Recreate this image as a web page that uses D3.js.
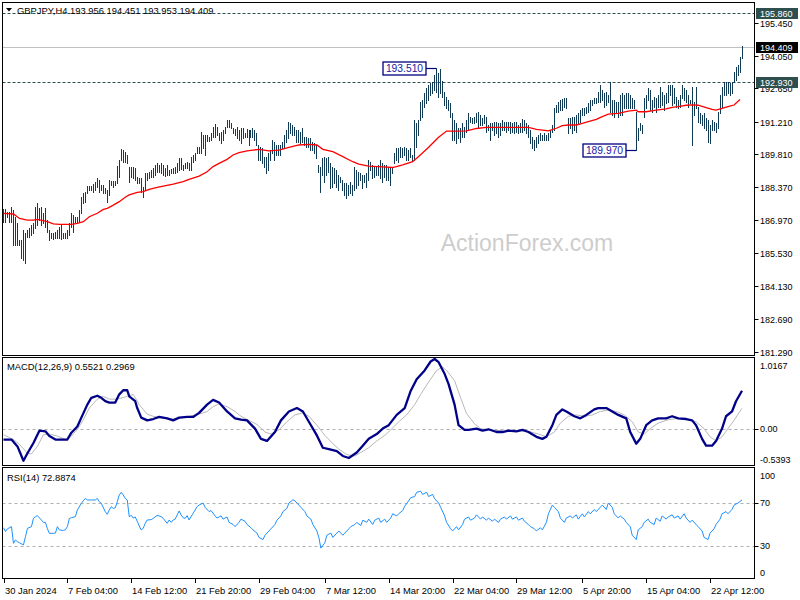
<!DOCTYPE html>
<html><head><meta charset="utf-8">
<script src="https://cdn.jsdelivr.net/npm/d3@7"></script>
<style>body{margin:0;background:#fff}svg{display:block}text{font-family:"Liberation Sans",Arial,sans-serif}</style>
</head><body><svg id="c" width="800" height="600"></svg>
<script>
// ---------- DATA ----------
const symbolTitle = "GBPJPY,H4 193.956 194.451 193.953 194.409";
const macdTitle = "MACD(12,26,9) 0.5521 0.2969";
const rsiTitle = "RSI(14) 72.8874";
const watermark = "ActionForex.com";

const highs = [
187.44,187.44,187.33,187.33,187.54,187.40,187.11,186.83,186.11,186.11,186.54,186.40,186.54,186.61,186.76,186.83,187.54,187.69,187.47,187.54,
187.26,187.47,186.97,186.54,186.40,186.42,186.47,186.54,186.68,186.76,186.40,186.40,186.54,186.83,187.26,187.19,187.11,187.11,187.40,187.97,
188.12,188.19,188.43,188.43,188.43,188.52,188.62,188.76,188.69,188.48,188.48,188.33,188.26,188.69,188.66,188.66,188.66,189.29,189.55,190.01,
189.98,189.91,189.77,189.27,189.24,189.24,189.19,188.84,188.76,188.76,188.40,188.98,188.98,189.05,189.12,189.19,189.34,189.44,189.34,189.41,
189.34,189.19,189.34,189.12,189.15,189.19,189.27,189.41,189.65,189.65,189.34,189.41,189.48,189.41,189.70,189.77,189.84,190.10,190.10,190.77,
190.63,190.63,190.63,190.56,190.70,190.99,191.10,190.99,190.73,190.77,190.84,190.99,191.27,191.27,191.13,190.92,190.87,190.99,190.84,190.92,
190.92,190.73,190.87,190.84,190.84,190.92,190.84,190.70,190.20,
190.13,190.05,189.70,189.70,189.84,189.98,190.41,190.34,190.20,190.20,190.20,190.34,190.63,190.84,191.20,191.13,191.06,190.99,190.84,190.84,
190.77,190.91,190.56,190.56,190.48,190.48,190.34,190.27,190.20,189.34,189.27,189.62,189.70,189.62,189.70,189.41,189.27,189.19,189.12,188.91,
188.83,188.69,188.55,188.55,188.48,188.62,188.48,189.27,189.12,189.05,188.98,188.91,188.91,188.98,189.55,189.48,189.34,189.27,189.27,189.34,
189.55,189.41,189.34,189.34,189.27,189.27,189.27,189.84,190.05,190.05,190.10,190.05,190.13,190.05,189.98,190.05,189.77,191.27,191.13,191.27,
192.06,192.14,192.42,192.64,192.78,192.85,192.92,193.21,193.51,193.28,193.46,192.97,192.49,192.28,192.14,191.99,191.56,191.27,191.13,190.91,
190.91,191.13,190.99,191.27,191.56,191.42,191.35,191.42,191.56,191.63,191.49,191.35,191.49,191.42,191.06,191.13,191.13,191.20,191.20,191.13,
191.13,191.27,191.20,191.20,191.20,
191.20,191.13,191.20,191.20,191.06,191.13,191.30,191.28,191.13,191.06,190.84,190.56,190.41,190.56,190.63,190.70,190.63,190.70,190.63,190.70,
190.84,191.06,191.78,191.92,192.06,192.13,192.16,192.21,192.21,191.35,191.35,191.42,191.42,191.49,191.56,191.70,191.78,191.78,191.85,191.99,
192.13,192.13,192.21,192.21,192.49,192.78,192.57,192.42,192.49,192.35,192.93,192.13,192.13,192.06,192.06,192.35,192.42,192.35,192.42,192.42,
192.35,192.21,192.13,191.63,190.92,191.13,191.06,192.21,192.35,192.64,192.57,192.13,192.28,192.21,192.35,192.71,192.49,192.35,192.42,192.78,
192.78,192.78,192.64,192.28,192.13,192.35,192.78,192.64,192.57,192.35,192.13,192.71,192.06,192.71,191.85,191.56,191.49,191.56,191.35,191.28,
191.06,191.28,191.20,191.13,191.63,192.35,192.71,192.92,192.92,192.92,192.85,192.92,193.35,193.57,193.64,194.00,194.451
];
const lows = [
186.90,186.90,187.11,186.90,186.90,185.89,185.89,185.89,185.89,185.32,185.25,185.13,186.25,186.25,186.32,186.40,186.61,186.76,186.97,186.76,
186.83,186.68,186.47,186.11,186.18,186.14,186.18,186.18,186.18,186.14,186.18,186.18,186.18,186.32,186.68,186.47,186.83,186.83,186.90,187.26,
187.69,187.76,188.12,188.26,188.26,188.19,188.26,188.40,188.19,188.26,188.12,188.12,187.76,188.05,188.48,188.40,188.48,188.55,188.84,189.55,
189.48,189.48,189.41,188.62,188.84,188.76,188.69,188.55,188.55,188.19,187.95,188.26,188.69,188.76,188.84,188.84,188.91,189.05,189.05,188.98,
188.91,188.86,188.91,188.91,188.98,188.98,189.01,189.05,189.12,189.15,189.12,189.19,189.19,189.12,189.12,189.48,189.55,189.84,189.84,189.84,
190.05,189.77,190.38,190.38,190.41,190.56,190.56,190.63,190.41,190.27,190.41,190.70,190.99,190.99,190.92,190.70,190.63,190.49,190.41,190.27,
190.49,190.56,190.56,190.20,190.56,190.56,190.41,190.20,189.55,
189.55,189.41,189.27,188.98,189.12,189.55,189.84,189.55,189.77,189.77,189.77,190.05,190.13,190.34,190.48,190.70,190.63,190.63,190.34,190.34,
190.27,190.34,190.20,190.13,190.13,189.98,189.98,189.84,189.62,189.05,188.19,188.91,188.62,188.91,189.05,188.33,188.40,188.55,188.40,188.26,
188.62,188.26,188.05,187.90,188.05,188.12,188.05,188.26,188.33,188.48,188.69,188.33,188.62,188.40,188.69,189.12,188.76,188.83,188.91,188.91,
188.76,188.62,188.83,188.69,188.69,188.48,188.98,189.41,189.55,189.48,189.70,189.70,189.77,189.55,189.55,189.70,189.55,189.55,190.13,190.63,
191.27,191.42,191.85,191.99,192.14,192.35,192.42,192.57,192.49,192.28,192.42,192.28,191.92,191.78,191.71,191.42,190.41,190.41,190.27,190.48,
190.34,190.56,190.56,190.77,190.84,191.20,191.13,191.13,191.20,190.99,191.06,191.06,191.13,190.77,190.84,190.41,190.84,190.63,190.70,190.56,
190.63,190.84,190.84,190.77,190.84,
190.70,190.77,190.70,190.77,190.70,190.77,190.77,190.84,190.70,190.56,190.27,190.05,189.98,190.13,190.27,190.41,190.41,190.41,190.41,190.41,
190.56,190.77,190.84,191.63,191.63,191.70,191.70,191.85,191.78,190.70,190.92,190.70,190.84,190.77,191.13,191.20,191.49,191.49,191.56,191.63,
191.70,191.92,191.99,191.99,192.06,192.06,192.13,191.85,191.92,192.06,191.63,191.49,191.42,191.63,191.42,191.49,191.49,191.78,191.78,191.78,
191.78,191.78,191.78,189.97,190.41,190.84,190.70,191.42,191.78,192.13,191.70,191.63,191.85,191.63,191.85,191.85,191.92,191.70,191.99,192.06,
192.35,191.92,191.99,191.85,191.78,191.85,192.21,192.13,192.06,191.85,191.99,190.20,191.49,191.78,191.20,191.13,191.06,190.92,190.84,190.34,
190.27,190.84,190.84,190.77,190.92,191.56,191.85,192.35,192.35,192.42,192.35,192.42,192.92,192.99,193.21,193.35,193.953
];

// moving average (red) sampled along the bars: bar index / value
const maIdx = [0,5,8,12,15,17,22,25,28,32,34,37,40,43,47,50,52,55,58,61,63,67,70,73,77,80,85,90,93,98,102,105,108,112,115,118,122,125,
128,133,138,143,148,153,157,160,165,170,175,178,183,190,195,200,205,208,213,218,222,227,232,237,242,247,
253,258,263,267,270,273,277,280,283,287,290,293,297,300,303,308,313,317,318,322,327,332,335,338,342,345,348,352,355,357,360,363,366,369];
const maVal = [187.26,187.23,187.04,186.97,186.97,187.00,186.90,186.80,186.78,186.78,186.78,186.83,186.90,187.11,187.26,187.43,187.47,187.61,187.76,187.95,188.05,188.16,188.19,188.29,188.38,188.43,188.52,188.62,188.72,188.86,189.05,189.27,189.41,189.58,189.77,189.87,189.95,189.98,
190.01,189.95,189.98,190.10,190.20,190.23,190.20,190.01,189.91,189.70,189.48,189.38,189.29,189.26,189.23,189.34,189.48,189.70,190.10,190.53,190.80,190.80,190.81,190.91,190.96,190.96,
190.96,190.96,190.96,190.87,190.84,190.81,190.92,191.03,191.06,191.06,191.13,191.20,191.30,191.42,191.53,191.56,191.66,191.70,191.63,191.63,191.70,191.75,191.82,191.85,191.91,191.93,191.91,191.81,191.73,191.70,191.78,191.85,191.92,192.16];

// MACD main line and signal line
const macdIdx = [0,4,7,10,12,15,17,18,21,23,26,28,32,34,37,39,42,44,47,49,51,53,56,58,60,62,63,66,67,69,72,75,78,82,85,88,92,95,98,102,105,108,112,116,119,122,126,129,132,136,139,143,147,150,153,157,160,163,167,170,173,177,180,183,187,190,193,197,201,204,207,211,214,216,218,221,223,226,228,231,233,237,240,243,247,250,253,257,260,263,267,270,272,275,277,280,282,286,289,292,296,298,302,305,308,312,314,317,319,322,325,328,332,335,338,342,345,347,350,352,355,357,360,362,365,367,370];
const macdVal = [-0.16,-0.16,-0.26,-0.47,-0.36,-0.21,-0.09,-0.03,-0.04,-0.11,-0.16,-0.16,-0.16,-0.06,0.03,0.16,0.35,0.45,0.48,0.45,0.40,0.38,0.38,0.50,0.56,0.56,0.47,0.40,0.30,0.16,0.12,0.14,0.17,0.15,0.12,0.16,0.17,0.17,0.23,0.35,0.42,0.38,0.25,0.15,0.13,0.12,0.00,-0.15,-0.18,-0.05,0.12,0.25,0.30,0.25,0.10,-0.10,-0.28,-0.30,-0.33,-0.40,-0.43,-0.35,-0.25,-0.15,-0.08,0.00,0.05,0.20,0.30,0.55,0.72,0.85,0.98,1.0167,0.97,0.80,0.65,0.35,0.05,-0.02,-0.02,0.00,-0.03,-0.01,-0.05,-0.05,-0.03,-0.04,-0.02,-0.05,-0.12,-0.15,-0.12,0.05,0.20,0.28,0.25,0.18,0.15,0.20,0.28,0.30,0.30,0.25,0.20,0.15,-0.05,-0.22,-0.15,0.05,0.12,0.15,0.15,0.18,0.15,0.14,0.12,0.05,-0.15,-0.25,-0.25,-0.18,0.00,0.18,0.25,0.40,0.5521];
const sigIdx = [0,5,8,12,14,17,20,23,27,31,33,37,40,43,47,50,53,57,62,65,68,72,75,78,85,92,98,102,105,108,112,116,119,123,127,131,134,138,142,146,150,153,157,161,165,168,172,176,179,183,187,191,194,198,202,206,209,213,217,220,222,226,229,232,236,239,243,248,253,258,263,268,272,276,279,283,287,291,295,299,303,307,311,315,318,321,324,328,333,338,343,347,351,354,357,360,363,366,370];
const sigVal = [-0.09,-0.16,-0.23,-0.36,-0.37,-0.26,-0.09,-0.08,-0.11,-0.16,-0.14,-0.01,0.13,0.30,0.43,0.47,0.43,0.43,0.47,0.50,0.35,0.21,0.18,0.16,0.14,0.17,0.21,0.25,0.32,0.36,0.32,0.25,0.18,0.12,0.06,-0.05,-0.08,-0.02,0.10,0.20,0.23,0.18,0.05,-0.10,-0.22,-0.30,-0.38,-0.40,-0.35,-0.28,-0.18,-0.10,-0.02,0.10,0.20,0.35,0.50,0.68,0.85,0.90,0.85,0.70,0.45,0.22,0.07,0.00,-0.02,-0.03,-0.04,-0.03,-0.04,-0.08,-0.12,-0.05,0.08,0.18,0.20,0.18,0.20,0.25,0.27,0.25,0.20,0.10,-0.05,-0.08,0.00,0.08,0.13,0.15,0.14,0.10,0.00,-0.12,-0.18,-0.12,0.00,0.12,0.2969];

// RSI(14)
const rsiIdx = [0,1,2,4,5,6,7,8,10,11,12,14,15,16,17,19,20,21,22,23,25,26,27,28,30,31,32,33,34,36,37,39,41,42,44,46,47,48,49,51,52,53,54,55,56,57,58,59,60,61,62,63,64,65,66,67,68,69,70,71,72,74,75,77,79,80,82,83,84,85,86,87,88,89,90,91,92,93,95,97,98,
100,101,103,104,106,107,109,110,112,113,115,116,118,119,121,122,124,125,127,128,130,131,133,134,136,137,139,140,142,143,145,146,148,149,151,152,154,155,157,158,159,161,162,164,165,167,168,170,171,173,174,176,177,179,180,182,183,185,186,188,189,191,192,194,195,197,198,200,201,203,204,206,207,209,210,212,213,215,216,218,219,221,222,224,225,227,228,230,231,233,234,236,237,239,240,242,243,245,246,248,249,251,252,254,255,257,258,260,261,263,264,266,267,269,270,272,273,275,276,278,279,281,282,284,285,287,288,290,291,293,294,296,297,299,300,302,303,305,306,308,309,311,312,314,315,317,318,320,321,323,324,326,327,329,330,332,333,335,336,338,339,341,342,344,345,347,348,350,351,353,354,356,357,359,360,362,363,365,366,368,370];
const rsiVal = [47,43.5,46,48,32.5,35.6,34,33,31,38.7,46.4,48,55.7,57.3,58.2,54.2,52,52,46,41.8,41.8,42,48,44.9,44.5,45,48,55.7,56.3,57.3,63.5,69.7,74.3,72.8,72.8,72.8,74.3,71.2,69.7,61.9,59.5,63.5,66.6,65,65.5,71.2,77.4,79.9,77.4,74.3,72.8,57.3,58.5,56,57,53,48.6,45,46.4,51.1,54.2,54.5,55.7,58.5,57.3,55.7,51.1,54.2,52,54.2,55,58.9,62.6,58.9,56.3,55.7,58.2,54.2,60.4,66.6,68.1,
70,66,62,63,58,56,58,55,57,52,50,48,52,55,53,50,47,45,42,38,36,40,44,46,50,54,58,62,65,70,73,72,68,66,62,58,55,50,44,38,28,33,40,42,38,42,44,40,42,46,48,50,52,49,54,52,55,50,54,56,52,55,52,56,60,58,60,63,67,72,75,76,80,81,78,80,76,78,74,70,66,58,52,46,44,48,45,50,55,57,54,56,59,55,57,54,56,53,55,52,55,57,55,58,55,57,54,56,53,50,48,46,44,47,45,52,60,68,66,62,56,52,56,58,56,59,55,60,57,62,60,64,62,66,68,64,70,66,60,56,58,55,52,48,40,36,45,48,52,55,52,50,56,53,58,55,57,59,56,58,55,60,56,52,54,50,48,44,38,36,42,46,50,55,60,62,60,64,68,70,72.8874];

const priceTicks = [195.450,194.050,192.650,191.210,189.810,188.370,186.970,185.530,184.130,182.690,181.290];
const macdTicks = [1.0167,0,-0.5393];
const macdTickText = ["1.0167","0.00","-0.5393"];
const rsiTicks = [100,70,30,0];
const rsiLevels = [70,30];
const timeIdx = [0,32,64,96,128,161,193,225,257,290,322,354];
const timeLabels = ["30 Jan 2024","7 Feb 04:00","14 Feb 12:00","21 Feb 20:00","29 Feb 04:00","7 Mar 12:00","14 Mar 20:00","22 Mar 04:00","29 Mar 12:00","5 Apr 20:00","15 Apr 04:00","22 Apr 12:00"];
const resistance = 195.860, support = 192.930, bid = 194.409;
const peakValue = 193.510, troughValue = 189.970;

// ---------- DRAW ----------
const svg = d3.select("#c");
const L = 2.5, R = 754.5;
const P = {main:[2.5,355.5], macd:[357.5,465.5], rsi:[467.5,578.5]};
const N = highs.length;
const x = d3.scaleLinear().domain([0, N-1]).range([3.5, 742]);
const y = d3.scaleLinear().domain([181.29, 195.45]).range([352, 23]);
const ym = d3.scaleLinear().domain([-0.5393, 1.0167]).range([465.5, 359]);
const yr = d3.scaleLinear().domain([0, 100]).range([578.25, 470.75]);
const FS = 9.4;

const defs = svg.append("defs");
Object.entries(P).forEach(([k,[t,b]])=>{
  defs.append("clipPath").attr("id","clip-"+k).append("rect").attr("x",L).attr("y",t).attr("width",R-L).attr("height",b-t);
});

// watermark
svg.append("text").attr("x",527).attr("y",251).attr("text-anchor","middle").attr("font-size",23).attr("fill","#cdcdcd").text(watermark);

const gMain = svg.append("g").attr("clip-path","url(#clip-main)");
// level lines
gMain.append("line").attr("x1",L).attr("x2",R).attr("y1",Math.round(y(resistance))+0.5).attr("y2",Math.round(y(resistance))+0.5)
  .attr("stroke","#2f4f4f").attr("stroke-dasharray","3,2");
gMain.append("line").attr("x1",L).attr("x2",R).attr("y1",Math.round(y(support))+0.5).attr("y2",Math.round(y(support))+0.5)
  .attr("stroke","#2f4f4f").attr("stroke-dasharray","3,2");
gMain.append("line").attr("x1",L).attr("x2",R).attr("y1",Math.round(y(bid))+0.5).attr("y2",Math.round(y(bid))+0.5)
  .attr("stroke","#c0c0c0");

// bars
gMain.append("g").selectAll("rect").data(highs).join("rect")
  .attr("x",(d,i)=>Math.floor(x(i)))
  .attr("y",(d,i)=>Math.round(y(d)))
  .attr("width",1)
  .attr("height",(d,i)=>Math.max(1,Math.round(y(lows[i]))-Math.round(y(d))+1))
  .attr("fill","#113b55").attr("shape-rendering","crispEdges");

// MA
gMain.append("path").datum(maIdx.map((d,i)=>[d,maVal[i]]))
  .attr("d",d3.line().x(d=>x(d[0])).y(d=>y(d[1])))
  .attr("fill","none").attr("stroke","#ff0000").attr("stroke-width",1.3);

// annotations
function note(idx, val, label){
  const bx = Math.floor(x(idx)), by = Math.round(y(val))+0.5;
  const w = 43, h = 13, right = bx - 10;
  svg.append("line").attr("x1",right).attr("x2",bx).attr("y1",by).attr("y2",by).attr("stroke","#000080").attr("stroke-width",1.2);
  svg.append("rect").attr("x",right-w).attr("y",by-h/2).attr("width",w).attr("height",h)
    .attr("fill","#fff").attr("stroke","#000080").attr("stroke-width",1.3);
  svg.append("text").attr("x",right-w/2).attr("y",by+3.8).attr("text-anchor","middle").attr("font-size",10.3).attr("fill","#1a1aa0").text(label);
}
const peakIdx = highs.indexOf(peakValue);
const troughIdx = lows.indexOf(troughValue);
note(peakIdx, peakValue, peakValue.toFixed(3));
note(troughIdx, troughValue, troughValue.toFixed(3));

// MACD panel
const gM = svg.append("g").attr("clip-path","url(#clip-macd)");
gM.append("line").attr("x1",L).attr("x2",R).attr("y1",Math.round(ym(0))+0.5).attr("y2",Math.round(ym(0))+0.5)
  .attr("stroke","#b0b0b0").attr("stroke-dasharray","3,3");
gM.append("path").datum(sigIdx.map((d,i)=>[d,sigVal[i]]))
  .attr("d",d3.line().x(d=>x(d[0])).y(d=>ym(d[1])))
  .attr("fill","none").attr("stroke","#b8b8b8").attr("stroke-width",1);
gM.append("path").datum(macdIdx.map((d,i)=>[d,macdVal[i]]))
  .attr("d",d3.line().x(d=>x(d[0])).y(d=>ym(d[1])))
  .attr("fill","none").attr("stroke","#000088").attr("stroke-width",2.3).attr("stroke-linejoin","round");

// RSI panel
const gR = svg.append("g").attr("clip-path","url(#clip-rsi)");
rsiLevels.forEach(v=>{
  gR.append("line").attr("x1",L).attr("x2",R).attr("y1",Math.round(yr(v))+0.5).attr("y2",Math.round(yr(v))+0.5)
    .attr("stroke","#b0b0b0").attr("stroke-dasharray","3,3");
});
gR.append("path").datum(rsiIdx.map((d,i)=>[d,rsiVal[i]]))
  .attr("d",d3.line().x(d=>x(d[0])).y(d=>yr(d[1])))
  .attr("fill","none").attr("stroke","#1e90ff").attr("stroke-width",1);

// panel borders
Object.values(P).forEach(([t,b])=>{
  svg.append("rect").attr("x",L).attr("y",t).attr("width",R-L).attr("height",b-t)
    .attr("fill","none").attr("stroke","#000").attr("stroke-width",1);
});

// right price axis
const axG = svg.append("g");
priceTicks.forEach(v=>{
  const yy = Math.round(y(v))+0.5;
  axG.append("line").attr("x1",R).attr("x2",R+4).attr("y1",yy).attr("y2",yy).attr("stroke","#000");
  axG.append("text").attr("x",760).attr("y",yy+3.3).attr("font-size",9).attr("fill","#000").text(v.toFixed(3));
});
// level boxes on axis (drawn over the tick labels, as in the reference)
function axisBox(v, fill){
  const yy = y(v);
  axG.append("rect").attr("x",756).attr("y",Math.round(yy)-5).attr("width",42).attr("height",11).attr("fill",fill);
  axG.append("text").attr("x",760).attr("y",Math.round(yy)+3.5).attr("font-size",9).attr("fill","#fff").text(v.toFixed(3));
}
axisBox(resistance,"#2f4f4f");
axisBox(support,"#2f4f4f");
axisBox(bid,"#000");

// MACD axis
macdTicks.forEach((v,i)=>{
  const yy = ym(v);
  let ty = yy + 3.3;
  if (i===0) ty = yy + 9.5;
  if (i===2) ty = yy - 3;
  if (v===0) axG.append("line").attr("x1",R).attr("x2",R+4).attr("y1",Math.round(yy)+0.5).attr("y2",Math.round(yy)+0.5).attr("stroke","#000");
  axG.append("text").attr("x",760).attr("y",ty).attr("font-size",9).attr("fill","#000").text(macdTickText[i]);
});
// RSI axis
rsiTicks.forEach(v=>{
  const yy = yr(v);
  let ty = yy + 3.3;
  if (v===100) ty = yy + 8.5;
  if (v===0) ty = yy - 2;
  if (v===70 || v===30) axG.append("line").attr("x1",R).attr("x2",R+4).attr("y1",Math.round(yy)+0.5).attr("y2",Math.round(yy)+0.5).attr("stroke","#000");
  axG.append("text").attr("x",760).attr("y",ty).attr("font-size",9).attr("fill","#000").text(v);
});

// time axis
timeIdx.forEach((i,k)=>{
  const xx = Math.round(x(i))+0.5;
  axG.append("line").attr("x1",xx).attr("x2",xx).attr("y1",578.5).attr("y2",583).attr("stroke","#000");
  axG.append("text").attr("x",xx+0.5).attr("y",593.5).attr("font-size",FS).attr("fill","#000").text(timeLabels[k]);
});

// titles
svg.append("path").attr("d","M6,8 L12,8 L9,11.5 Z").attr("fill","#000");
svg.append("text").attr("x",17).attr("y",14).attr("font-size",FS).attr("fill","#000").text(symbolTitle);
svg.append("text").attr("x",7).attr("y",370).attr("font-size",FS).attr("fill","#000").text(macdTitle);
svg.append("text").attr("x",7).attr("y",481).attr("font-size",FS).attr("fill","#000").text(rsiTitle);
</script></body></html>
